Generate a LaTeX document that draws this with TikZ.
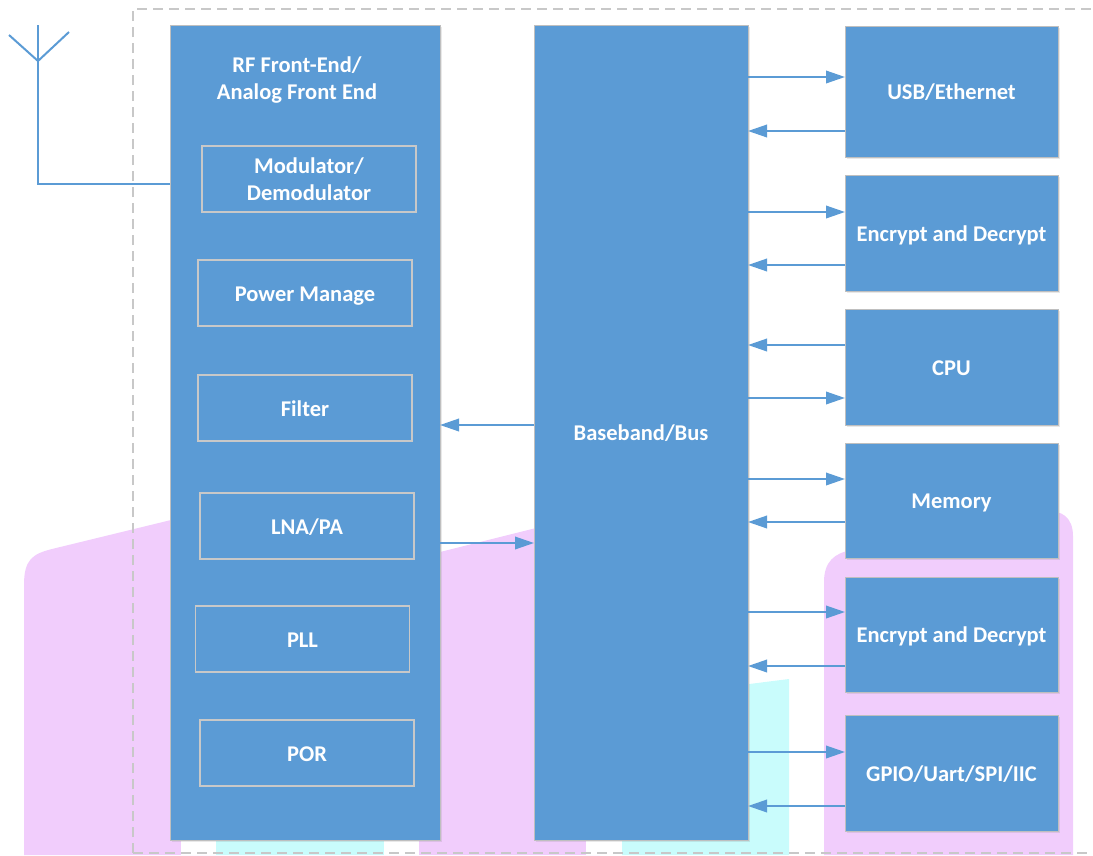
\documentclass[tikz,border=0pt]{standalone}
\usepackage{fontspec}
\setmainfont{Carlito}
\usetikzlibrary{arrows.meta,calc,shadows}
\definecolor{blk}{HTML}{5B9BD5}
\definecolor{arrc}{HTML}{5B9BD5}
\definecolor{pinkbg}{HTML}{F1CDFC}
\definecolor{cyanbg}{HTML}{C9FCFC}
\definecolor{edgegray}{HTML}{BFBFBF}
\definecolor{dashgray}{HTML}{C8C8C8}
\tikzset{
  block/.style={draw=edgegray, line width=1pt, fill=blk, inner sep=0pt, outer sep=0pt,
    drop shadow={opacity=0.18, shadow xshift=2pt, shadow yshift=-2pt}},
  oneline/.style={text height=16.5pt, text depth=0pt},
  subbox/.style={draw=dashgray, line width=1.5pt, inner sep=0pt, outer sep=0pt,
    minimum width=214pt, minimum height=66pt, text=white,
    font=\bfseries\fontsize{22.5}{27}\selectfont, align=center},
  lbl/.style={text=white, font=\bfseries\fontsize{22.5}{27}\selectfont, align=center, inner sep=0pt},
  rbox/.style={block, oneline, minimum width=213pt, text=white,
    font=\bfseries\fontsize{22.5}{27}\selectfont},
  arr/.style={draw=arrc, line width=2pt, -{Triangle[length=19pt,width=12.5pt]}},
  ant/.style={draw=arrc, line width=2pt},
}
\begin{document}
\begin{tikzpicture}[x=1pt,y=-1pt]
\useasboundingbox (0,0) rectangle (1093,855);
% background decorations
\fill[pinkbg] (24,855) -- (24,585) .. controls (24,560) and (32,554) .. (52,549) -- (171,520) -- (300,560) -- (440,552) -- (600,512) -- (600,855) -- cycle;
\fill[white] (181,838) rectangle (419,855);
\fill[cyanbg] (216,838) rectangle (384,855);
\fill[white] (586,838) rectangle (622,855);
\fill[cyanbg] (622,855) -- (622,700) -- (789,679) -- (789,855) -- cycle;
\fill[pinkbg] (824,855) -- (824,582) .. controls (824,562) and (834,553) .. (852,550) -- (1045,512) .. controls (1062,509) and (1073,518) .. (1073,536) -- (1073,855) -- cycle;
% dashed frame
\draw[dashgray, line width=1.5pt, dash pattern=on 10pt off 6pt] (133,853) -- (133,9) -- (1100,9);
\draw[dashgray, line width=1.5pt, dash pattern=on 10pt off 6pt] (133,853) -- (1100,853);
% main blocks
\node[block, minimum width=270pt, minimum height=815pt] (rf) at (305,432.5) {};
\node[lbl] (rflabel) at (297,80) {RF Front-End/\\Analog Front End};
\node[subbox] (mod) at (309,179) {Modulator/\\Demodulator};
\node[subbox, oneline] (pwr) at (305,293) {Power Manage};
\node[subbox, oneline] (filt) at (305,408) {Filter};
\node[subbox, oneline] (lna) at (307,526) {LNA/PA};
\node[subbox, oneline] (pll) at (302.5,639) {PLL};
\node[subbox, oneline] (por) at (307,753) {POR};
\node[block, oneline, minimum width=214pt, minimum height=815pt, text=white,
  font=\bfseries\fontsize{22.5}{27}\selectfont] (bb) at (641,432.5) {Baseband/Bus};
% right boxes
\node[rbox, minimum height=131pt] (usb) at (951.5,91.5) {USB/Ethernet};
\node[rbox, minimum height=116pt] (enc1) at (951.5,233) {Encrypt and Decrypt};
\node[rbox, minimum height=116pt] (cpu) at (951.5,367) {CPU};
\node[rbox, minimum height=115pt] (mem) at (951.5,500.5) {Memory};
\node[rbox, minimum height=115pt] (enc2) at (951.5,634.5) {Encrypt and Decrypt};
\node[rbox, minimum height=116pt] (gpio) at (951.5,773) {GPIO/Uart/SPI/IIC};
% antenna
\coordinate (feed) at (38,184);
\draw[ant] (rf.west |- feed) -- (feed) -- (38,25);
\draw[ant] (9,35) -- (38,61) -- (69,32);
% connectors
\draw[arr] ($(bb.east |- usb.west)+(0,-14.5)$) -- ($(usb.west)+(0,-14.5)$);
\draw[arr] ($(usb.west)+(0,39.5)$) -- ($(bb.east |- usb.west)+(0,39.5)$);
\draw[arr] ($(bb.east |- enc1.west)+(0,-21)$) -- ($(enc1.west)+(0,-21)$);
\draw[arr] ($(enc1.west)+(0,32)$) -- ($(bb.east |- enc1.west)+(0,32)$);
\draw[arr] ($(cpu.west)+(0,-22)$) -- ($(bb.east |- cpu.west)+(0,-22)$);
\draw[arr] ($(bb.east |- cpu.west)+(0,31)$) -- ($(cpu.west)+(0,31)$);
\draw[arr] ($(bb.east |- mem.west)+(0,-21.5)$) -- ($(mem.west)+(0,-21.5)$);
\draw[arr] ($(mem.west)+(0,21.5)$) -- ($(bb.east |- mem.west)+(0,21.5)$);
\draw[arr] ($(bb.east |- enc2.west)+(0,-22.5)$) -- ($(enc2.west)+(0,-22.5)$);
\draw[arr] ($(enc2.west)+(0,31.5)$) -- ($(bb.east |- enc2.west)+(0,31.5)$);
\draw[arr] ($(bb.east |- gpio.west)+(0,-21)$) -- ($(gpio.west)+(0,-21)$);
\draw[arr] ($(gpio.west)+(0,33)$) -- ($(bb.east |- gpio.west)+(0,33)$);
\draw[arr] ($(bb.west)+(0,-7.5)$) -- ($(rf.east |- bb.west)+(0,-7.5)$);
\draw[arr] ($(rf.east |- lna.east)+(0,17)$) -- ($(bb.west |- lna.east)+(0,17)$);
\end{tikzpicture}
\end{document}
